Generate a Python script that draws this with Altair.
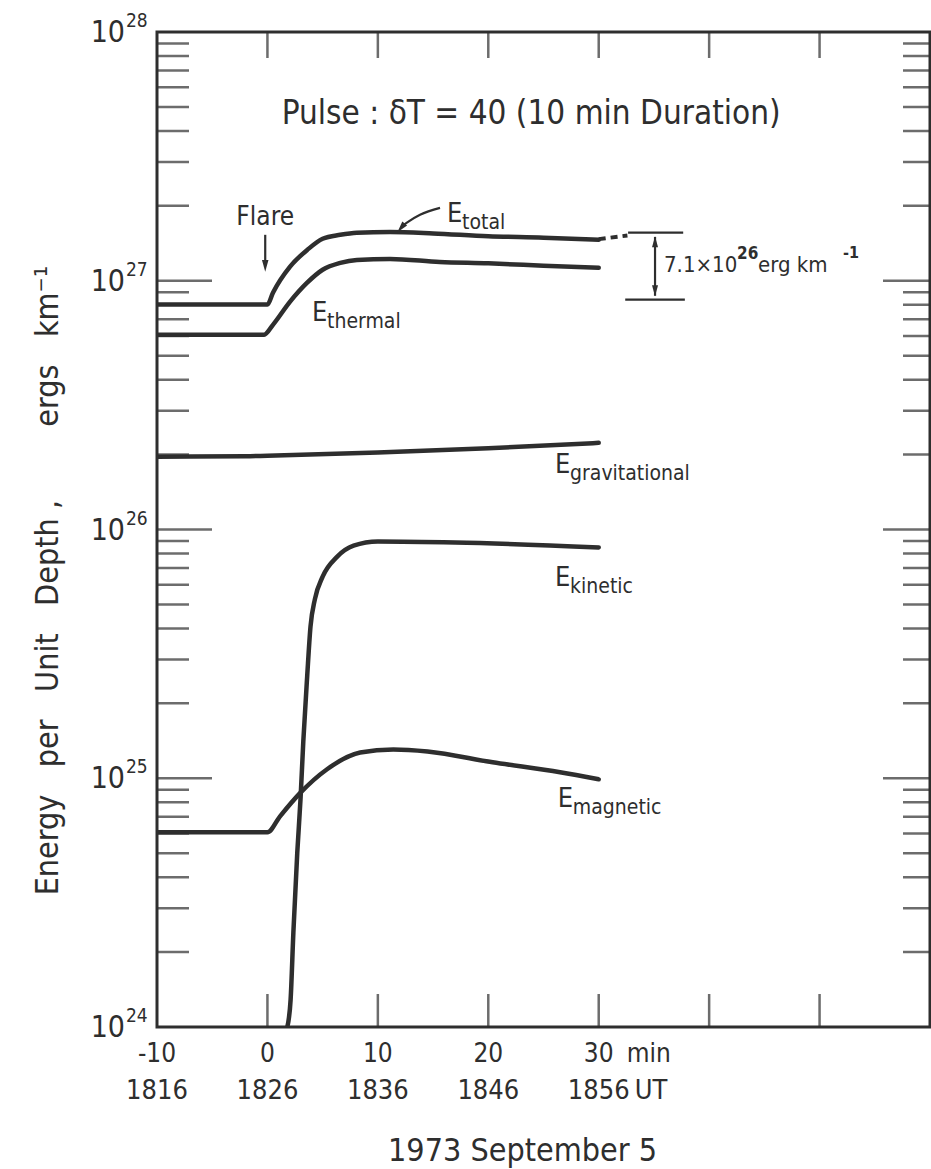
import altair as alt
import pandas as pd

# ---------------- data ----------------
# time in minutes relative to 1826 UT, energy in erg km^-1
t_total = [-10, 0.0, 0.5, 2.05, 3.6, 5.0, 6.6, 8.1, 11.1, 15.0, 20.0, 25.0, 30.0]
e_total = [8.02e26, 8.02e26, 8.95e26, 1.14e27, 1.33e27, 1.475e27, 1.53e27, 1.56e27,
           1.57e27, 1.55e27, 1.51e27, 1.49e27, 1.46e27]

t_thermal = [-10, -0.3, 0.5, 2.05, 3.6, 5.0, 6.6, 8.1, 11.1, 15.6, 20.0, 25.0, 30.0]
e_thermal = [6.07e26, 6.07e26, 6.65e26, 8.24e26, 9.82e26, 1.107e27, 1.18e27, 1.213e27,
             1.224e27, 1.19e27, 1.175e27, 1.15e27, 1.127e27]

t_grav = [-10, -2, 0, 10, 20, 30]
e_grav = [1.963e26, 1.97e26, 1.98e26, 2.04e26, 2.12e26, 2.23e26]

t_kin = [1.8, 2.1, 2.35, 2.7, 3.0, 3.25, 3.6, 3.9, 4.3, 5.0, 6.3, 7.8, 10.0, 17.0, 30.0]
e_kin = [1.0e24, 1.29e24, 2.4e24, 5.0e24, 8.3e24, 1.41e25, 2.57e25, 4.07e25, 5.25e25,
         6.46e25, 7.76e25, 8.61e25, 8.95e25, 8.87e25, 8.47e25]

t_mag = [-10, 0, 1.14, 2.95, 5.4, 8.4, 11.4, 14.5, 20.4, 26.5, 30]
e_mag = [6.07e24, 6.07e24, 7.03e24, 8.71e24, 1.087e25, 1.27e25, 1.306e25, 1.282e25,
         1.159e25, 1.057e25, 9.9e24]

# dashed continuation of E_total
t_total_dash = [30.0, 32.6]
e_total_dash = [1.47e27, 1.52e27]

# axes
X_MIN, X_MAX = -10, 60
Y_MIN, Y_MAX = 1e24, 1e28
x_tick_vals = [0, 10, 20, 30, 40, 50]
decades = [24, 25, 26, 27, 28]
minor_mult = [2, 3, 4, 5, 6, 7, 8, 9]
x_lab_vals = [-10, 0, 10, 20, 30]
x_lab_min = ["-10", "0", "10", "20", "30"]
x_lab_ut = ["1816", "1826", "1836", "1846", "1856"]

# curve labels
label_sub = ["total", "thermal", "gravitational", "kinetic", "magnetic"]
label_t = [16.27, 4.04, 26.05, 26.05, 26.3]
label_e = [1.86e27, 7.43e26, 1.82e26, 6.41e25, 8.24e24]

# annotations
title_text = "Pulse :  δT = 40 (10 min Duration)"
title_t, title_e = 23.88, 4.69e27
flare_t = -0.2
flare_text_e = 1.81e27
flare_line_e = [1.53e27, 1.19e27]
flare_head_e = 1.148e27
leader_t = [15.63, 13.82, 12.7, 12.3]
leader_e = [1.963e27, 1.841e27, 1.72e27, 1.67e27]
leader_head_t, leader_head_e = 12.1, 1.633e27
brk_top_t = [32.66, 37.65]
brk_top_e = 1.56e27
brk_bot_t = [32.4, 37.8]
brk_bot_e = 8.4e26
brk_t = 35.1
brk_line_e = [1.50e27, 8.7e26]
brk_head_up_e = 1.436e27
brk_head_dn_e = 9.12e26
delta_e = 1.16e27

# ---------------- styling ----------------
FONT = "'Liberation Sans Narrow', 'DejaVu Sans Condensed', 'Roboto Condensed', 'Liberation Sans', sans-serif"
INK = "#2e2e2e"
ARROW = "M -0.55 -1 L 0 1 L 0.55 -1 Z"
NB = "\u00a0"

xs = alt.Scale(domain=[X_MIN, X_MAX], nice=False, zero=False)
ys = alt.Scale(type="log", domain=[Y_MIN, Y_MAX], nice=False)

ytitle = (f"Energy{NB*3}per{NB*3}Unit{NB*3}Depth{NB},{NB*8}ergs{NB*3}km\u207b\u00b9")

xaxis = alt.Axis(title="1973 September 5", labels=False, ticks=False, domain=False, grid=False,
                 titleX=365, titleY=123, titleAlign="center", titleBaseline="middle",
                 titleFont=FONT, titleFontSize=32, titleFontWeight="normal", titleColor=INK)
yaxis = alt.Axis(title=ytitle,
                 labels=False, ticks=False, domain=False, grid=False,
                 titleX=-110, titleY=548, titleAngle=270, titleAlign="center", titleBaseline="middle",
                 titleFont=FONT, titleFontSize=32, titleFontWeight="normal", titleColor=INK)


def X(f):
    return alt.X(f"{f}:Q", scale=xs, axis=xaxis)


def Y(f):
    return alt.Y(f"{f}:Q", scale=ys, axis=yaxis)


# ---------------- tables ----------------
rows = []
for name, ts, es in [("total", t_total, e_total), ("thermal", t_thermal, e_thermal),
                     ("grav", t_grav, e_grav), ("kin", t_kin, e_kin), ("mag", t_mag, e_mag)]:
    for i, (t, e) in enumerate(zip(ts, es)):
        rows.append({"series": name, "t": t, "e": e, "i": i})
curves = pd.DataFrame(rows)

dash_df = pd.DataFrame({"t": t_total_dash, "e": e_total_dash})

left_minor = pd.DataFrame({"e": [m * 10.0 ** d for d in decades[:-1] for m in minor_mult]})
left_minor["t"] = X_MIN
left_major = pd.DataFrame({"e": [10.0 ** d for d in decades[1:-1]]})
left_major["t"] = X_MIN
right_minor = left_minor.assign(t=X_MAX)
right_major = left_major.assign(t=X_MAX)
top_ticks = pd.DataFrame({"t": x_tick_vals, "e": Y_MAX})
bot_ticks = pd.DataFrame({"t": x_tick_vals, "e": Y_MIN})

ylab = pd.DataFrame({"e": [10.0 ** d for d in decades], "exp": [str(d) for d in decades]})
ylab["t"] = X_MIN

xlab = pd.DataFrame({"t": x_lab_vals, "m": x_lab_min, "ut": x_lab_ut})
xlab["e"] = Y_MIN
xunit = pd.DataFrame({"t": [x_lab_vals[-1]], "e": [Y_MIN]})

labels = pd.DataFrame({"t": label_t, "e": label_e, "sub": label_sub})

title_df = pd.DataFrame({"t": [title_t], "e": [title_e], "txt": [title_text]})
flare_txt = pd.DataFrame({"t": [flare_t], "e": [flare_text_e]})
flare_line = pd.DataFrame({"t": [flare_t, flare_t], "e": flare_line_e})
flare_head = pd.DataFrame({"t": [flare_t], "e": [flare_head_e]})
leader = pd.DataFrame({"t": leader_t, "e": leader_e, "i": range(len(leader_t))})
leader_head = pd.DataFrame({"t": [leader_head_t], "e": [leader_head_e]})
brk_lines = pd.DataFrame({
    "g": ["top", "top", "bot", "bot", "v", "v"],
    "t": brk_top_t + brk_bot_t + [brk_t, brk_t],
    "e": [brk_top_e, brk_top_e, brk_bot_e, brk_bot_e] + brk_line_e,
})
brk_up = pd.DataFrame({"t": [brk_t], "e": [brk_head_up_e]})
brk_dn = pd.DataFrame({"t": [brk_t], "e": [brk_head_dn_e]})
delta = pd.DataFrame({"t": [brk_t], "e": [delta_e]})

# ---------------- layers ----------------
enc = dict(x=X("t"), y=Y("e"))

lines = alt.Chart(curves).mark_line(color=INK, strokeWidth=4.5, interpolate="monotone",
                                    clip=True, strokeCap="round").encode(
    detail="series:N", order="i:Q", **enc)
dash = alt.Chart(dash_df).mark_line(color=INK, strokeWidth=4, strokeDash=[7, 5]).encode(**enc)


def tick(df, orient, size, th=2.5):
    return alt.Chart(df).mark_tick(orient=orient, size=size, thickness=th, color=INK,
                                   clip=True).encode(**enc)


ticks = [
    tick(left_minor, "horizontal", 64),
    tick(left_major, "horizontal", 110),
    tick(right_minor, "horizontal", 54),
    tick(right_major, "horizontal", 94),
    tick(top_ticks, "vertical", 52),
    tick(bot_ticks, "vertical", 66),
]

txt = dict(font=FONT, color=INK, baseline="middle")

ylab_base = alt.Chart(ylab).mark_text(text="10", align="right", dx=-32, dy=1, fontSize=30, **txt).encode(**enc)
ylab_exp = alt.Chart(ylab).mark_text(align="left", dx=-31, dy=-11, fontSize=19, **txt).encode(
    text="exp:N", **enc)

xlab1 = alt.Chart(xlab).mark_text(align="center", dy=27, fontSize=26, **txt).encode(text="m:N", **enc)
xlab2 = alt.Chart(xlab).mark_text(align="center", dy=64, fontSize=27, **txt).encode(text="ut:N", **enc)
xmin_unit = alt.Chart(xunit).mark_text(text="min", align="left", dx=28, dy=27, fontSize=26, **txt).encode(**enc)
xut_unit = alt.Chart(xunit).mark_text(text="UT", align="left", dx=36, dy=64, fontSize=27, **txt).encode(**enc)

lab_E = alt.Chart(labels).mark_text(text="E", align="left", fontSize=27, **txt).encode(**enc)
lab_sub = alt.Chart(labels).mark_text(align="left", dx=15, dy=9, fontSize=21, **txt).encode(text="sub:N", **enc)

title = alt.Chart(title_df).mark_text(align="center", fontSize=33, **txt).encode(text="txt:N", **enc)
flare_t_m = alt.Chart(flare_txt).mark_text(text="Flare", align="center", fontSize=26, **txt).encode(**enc)

thin = dict(color=INK, strokeWidth=2.2)
flare_l = alt.Chart(flare_line).mark_line(**thin).encode(**enc)
flare_h = alt.Chart(flare_head).mark_point(shape=ARROW, filled=True, size=140, color=INK,
                                           opacity=1, strokeWidth=0).encode(**enc)
leader_l = alt.Chart(leader).mark_line(interpolate="monotone", **thin).encode(order="i:Q", **enc)
leader_h = alt.Chart(leader_head).mark_point(shape=ARROW, filled=True, size=130, angle=40, color=INK,
                                             opacity=1, strokeWidth=0).encode(**enc)
brk_l = alt.Chart(brk_lines).mark_line(**thin).encode(detail="g:N", **enc)
brk_u = alt.Chart(brk_up).mark_point(shape=ARROW, filled=True, size=120, angle=180, color=INK,
                                     opacity=1, strokeWidth=0).encode(**enc)
brk_d = alt.Chart(brk_dn).mark_point(shape=ARROW, filled=True, size=120, color=INK,
                                     opacity=1, strokeWidth=0).encode(**enc)

d1 = alt.Chart(delta).mark_text(text="7.1×10", align="left", dx=9, fontSize=22, **txt).encode(**enc)
d2 = alt.Chart(delta).mark_text(text="26", align="left", dx=82, dy=-11, fontSize=17, fontWeight="bold", **txt).encode(**enc)
d3 = alt.Chart(delta).mark_text(text="erg km", align="left", dx=103, fontSize=22, **txt).encode(**enc)
d4 = alt.Chart(delta).mark_text(text="-1", align="left", dx=188, dy=-12, fontSize=16, fontWeight="bold", **txt).encode(**enc)

chart = alt.layer(
    lines, dash, *ticks, ylab_base, ylab_exp, xlab1, xlab2, xmin_unit, xut_unit,
    lab_E, lab_sub, title, flare_t_m, flare_l, flare_h, leader_l, leader_h,
    brk_l, brk_u, brk_d, d1, d2, d3, d4,
).properties(
    width=773, height=995,
    autosize=alt.AutoSizeParams(type="none"),
    padding={"left": 157, "top": 32, "right": 1, "bottom": 142},
    background="white",
).configure_view(stroke=INK, strokeWidth=3)

chart.save("out.html", embed_options={"renderer": "svg", "actions": False})
